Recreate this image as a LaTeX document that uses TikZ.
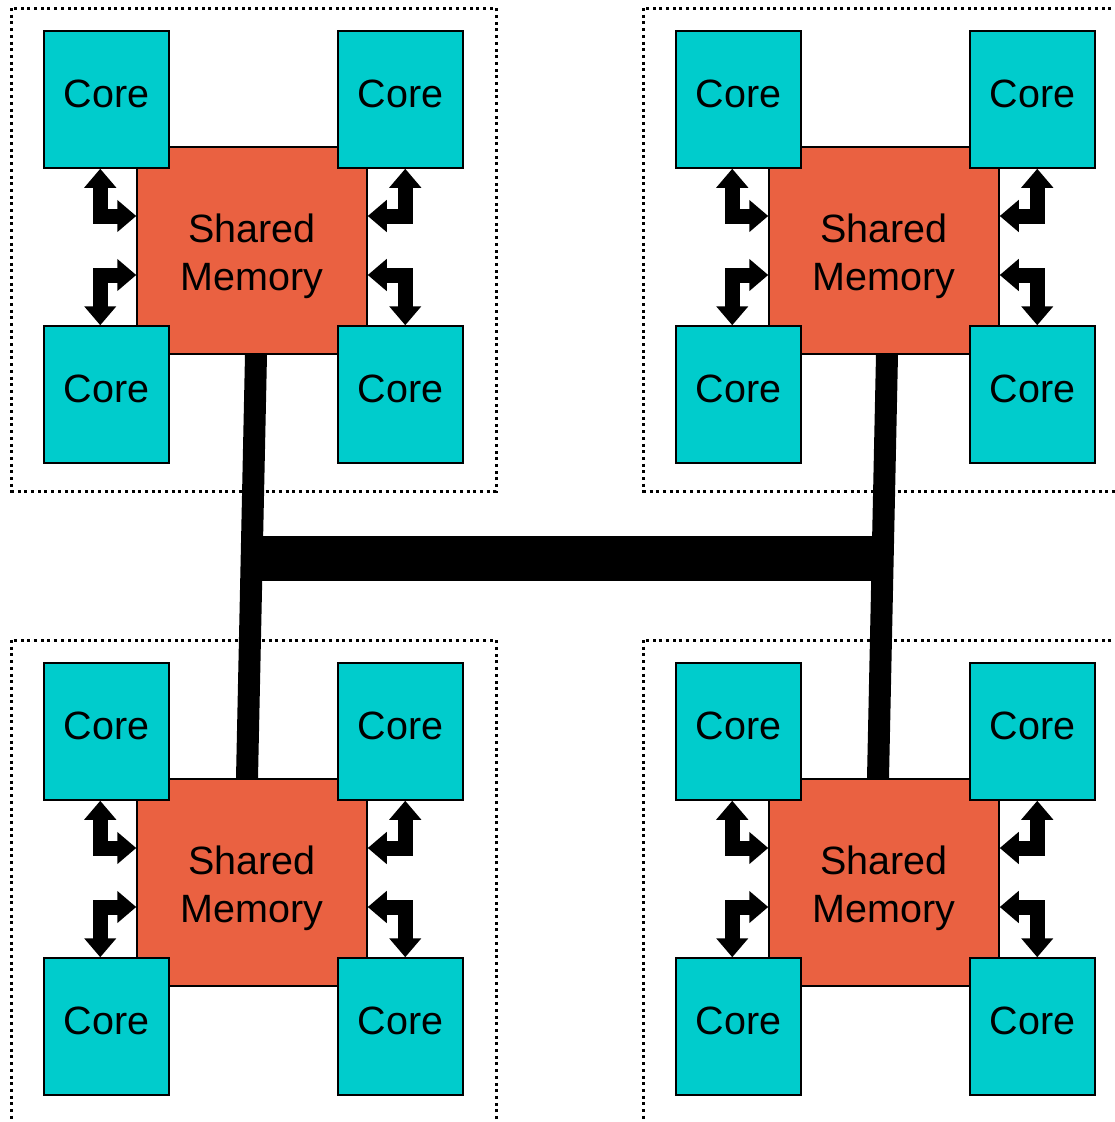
\documentclass[tikz,border=0pt]{standalone}
\usepackage{fontspec}
\setmainfont{Liberation Sans}
\usetikzlibrary{arrows.meta,calc}

\definecolor{corefill}{RGB}{0,204,204}
\definecolor{memfill}{RGB}{234,97,65}

\tikzset{
  core/.style={draw=black, line width=1.5pt, fill=corefill, inner sep=0pt,
    minimum width=125pt, minimum height=137pt, text height=15pt, text depth=0pt,
    font=\fontsize{39.5}{47}\selectfont},
  sharedmem/.style={draw=black, line width=1.5pt, fill=memfill, inner sep=0pt,
    minimum width=230pt, minimum height=207pt},
  memtext/.style={inner sep=0pt, align=center, font=\fontsize{39.5}{48}\selectfont},
  nodeframe/.style={draw=black, line width=3pt, dash pattern=on 3pt off 3.7pt},
  biarrow/.style={draw=black, line width=15pt, line join=miter,
    {Triangle[width=31pt,length=19pt]}-{Triangle[width=31pt,length=19pt]}},
  bus/.style={draw=black, line width=22pt},
  busbar/.style={draw=black, line width=45pt},
}

\begin{document}
\begin{tikzpicture}[x=1pt,y=-1pt]
\useasboundingbox (0,0) rectangle (1114,1122);

% four processing nodes: a shared memory with four cores around it
\foreach \g/\gx/\gy in {1/0/0, 2/632/0, 3/0/632, 4/632/632}{
  \begin{scope}[shift={(\gx,\gy)}]
    \draw[nodeframe] (11.5,8) rectangle (496,491);
    \node[sharedmem] (sm\g) at (252,250.5) {};
    \node[memtext] (smtext\g) at ([yshift=-6pt]sm\g.center) {Shared\\Memory};
    \node[core] (tl\g) at (106.5,99.5) {Core};
    \node[core] (tr\g) at (400.5,99.5) {Core};
    \node[core] (bl\g) at (106.5,394.5) {Core};
    \node[core] (br\g) at (400.5,394.5) {Core};
    % core <-> memory links
    \draw[biarrow] ([xshift=57pt]tl\g.south west) |- ([yshift=34.5pt]sm\g.west);
    \draw[biarrow] ([xshift=57pt]bl\g.north west) |- ([yshift=-24.5pt]sm\g.west);
    \draw[biarrow] ([xshift=68pt]tr\g.south west) |- ([yshift=34.5pt]sm\g.east);
    \draw[biarrow] ([xshift=68pt]br\g.north west) |- ([yshift=-24.5pt]sm\g.east);
  \end{scope}
}

% interconnect between the shared memories
\coordinate (la) at ([xshift=4pt]sm1.south);
\coordinate (lb) at ([xshift=-5pt]sm3.north);
\coordinate (ra) at ([xshift=3pt]sm2.south);
\coordinate (rb) at ([xshift=-6pt]sm4.north);
\draw[bus] (la) -- (lb);
\draw[bus] (ra) -- (rb);
\coordinate (jl) at ($(la)!0.482!(lb)$);
\coordinate (jr) at ($(ra)!0.482!(rb)$);
\draw[busbar] (jl) -- (jr);
\end{tikzpicture}
\end{document}
